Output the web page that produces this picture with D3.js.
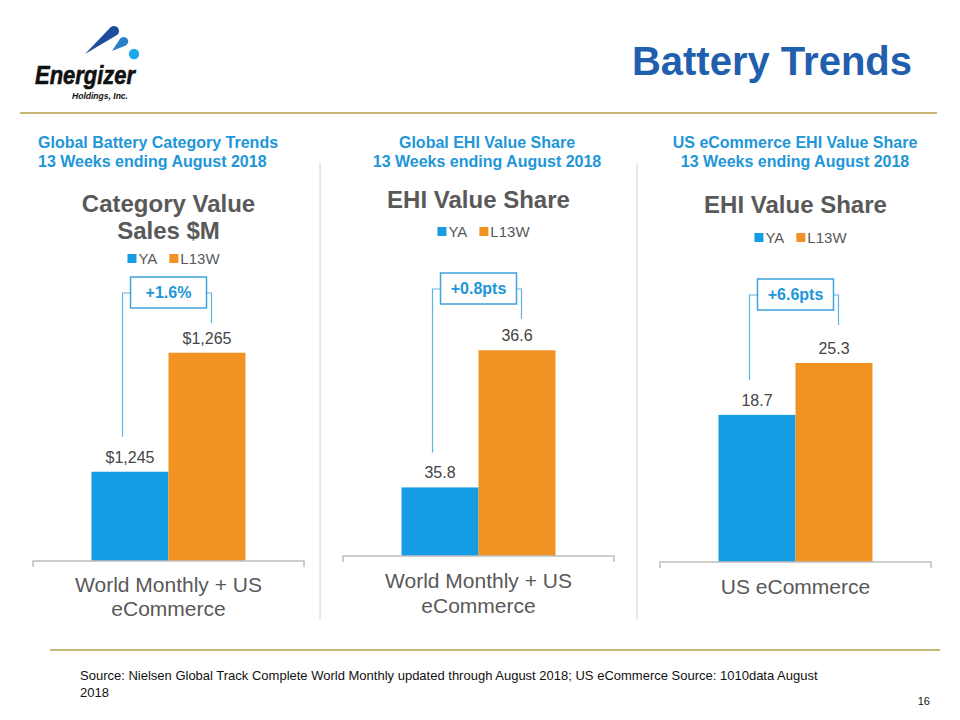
<!DOCTYPE html>
<html>
<head>
<meta charset="utf-8">
<script src="https://cdn.jsdelivr.net/npm/d3@7"></script>
<style>
  html, body { margin: 0; padding: 0; background: #fff; }
  svg { display: block; font-family: "Liberation Sans", Arial, sans-serif; }
</style>
</head>
<body>
<svg id="chart" width="960" height="720"></svg>
<script>
// ---------------- DATA ----------------
const series = ["YA", "L13W"];
const headerLine1 = ["Global Battery Category Trends", "Global EHI Value Share", "US eCommerce EHI Value Share"];
const headerLine2 = ["13 Weeks ending August 2018", "13 Weeks ending August 2018", "13 Weeks ending August 2018"];
const chartTitles = [["Category Value", "Sales $M"], ["EHI Value Share"], ["EHI Value Share"]];
const categories = [["World Monthly + US", "eCommerce"], ["World Monthly + US", "eCommerce"], ["US eCommerce"]];
const yaValues = [1245, 35.8, 18.7];
const l13wValues = [1265, 36.6, 25.3];
const valueLabels = [["$1,245", "$1,265"], ["35.8", "36.6"], ["18.7", "25.3"]];
const changeLabels = ["+1.6%", "+0.8pts", "+6.6pts"];
const yDomains = [[1230, 1270], [35.4, 36.8], [0, 30]];
const sourceLines = [
  "Source: Nielsen Global Track Complete World Monthly updated through August 2018; US eCommerce Source: 1010data August",
  "2018"
];
const pageNumber = "16";

// ---------------- LAYOUT ----------------
const layout = [
  { x0: 33,  x1: 304, base: 561, top: 323, titleY: [212, 239], legendY: 264, catY: [592, 616], boxTop: 277, headX: 38,  headAnchor: "start" },
  { x0: 343, x1: 614, base: 556, top: 316, titleY: [208],      legendY: 237, catY: [588, 613], boxTop: 273, headX: 487, headAnchor: "middle" },
  { x0: 660, x1: 931, base: 562, top: 326, titleY: [213],      legendY: 243, catY: [594],      boxTop: 279, headX: 795, headAnchor: "middle" }
];
const colors = { YA: "#169be5", L13W: "#f29222" };
const grey = "#595959";
const headBlue = "#2196d8";
const bracketBlue = "#5fb3e0";
const gold = "#c8b676";

const svg = d3.select("#chart");

// ---------------- HEADER ----------------
const logo = svg.append("g");
logo.append("path").attr("d", "M85,54 L110.6,27.3 A5,5 0 1 1 117.4,34.7 Z").attr("fill", "#1f4d9e");
logo.append("path").attr("d", "M112,51 L120.2,38.6 A4.5,4.5 0 1 1 125.8,45.4 Z").attr("fill", "#2a7fc6");
logo.append("circle").attr("cx", 134).attr("cy", 54).attr("r", 5.2).attr("fill", "#1ea8ee");
logo.append("text").attr("x", 35).attr("y", 84).attr("font-size", 25).attr("font-weight", "bold")
  .attr("font-style", "italic").attr("fill", "#111").attr("stroke", "#111").attr("stroke-width", 0.6)
  .attr("textLength", 100).attr("lengthAdjust", "spacingAndGlyphs")
  .text("Energizer");
logo.append("text").attr("x", 72).attr("y", 99).attr("font-size", 9).attr("font-weight", "bold")
  .attr("font-style", "italic").attr("fill", "#111").attr("textLength", 56).attr("lengthAdjust", "spacingAndGlyphs")
  .text("Holdings, Inc.");

svg.append("text").attr("x", 912).attr("y", 75).attr("text-anchor", "end")
  .attr("font-size", 40).attr("font-weight", "bold").attr("fill", "#1f5fad").text("Battery Trends");

svg.append("line").attr("x1", 20).attr("x2", 937).attr("y1", 113).attr("y2", 113)
  .attr("stroke", gold).attr("stroke-width", 2);
svg.append("line").attr("x1", 50).attr("x2", 940).attr("y1", 650).attr("y2", 650)
  .attr("stroke", gold).attr("stroke-width", 2);

[320, 637].forEach(x => {
  svg.append("line").attr("x1", x).attr("x2", x).attr("y1", 163).attr("y2", 620)
    .attr("stroke", "#d4d4d4").attr("stroke-width", 1);
});

// ---------------- PANELS ----------------
layout.forEach((L, i) => {
  const g = svg.append("g");
  const values = [yaValues[i], l13wValues[i]];
  const rows = series.map((s, j) => ({ series: s, value: values[j], label: valueLabels[i][j] }));
  const cx = (L.x0 + L.x1) / 2;

  g.append("text").attr("x", L.headX).attr("y", 148).attr("text-anchor", L.headAnchor)
    .attr("font-size", 16).attr("font-weight", "bold").attr("fill", headBlue).text(headerLine1[i]);
  g.append("text").attr("x", L.headX).attr("y", 167).attr("text-anchor", L.headAnchor)
    .attr("font-size", 16).attr("font-weight", "bold").attr("fill", headBlue).text(headerLine2[i]);

  chartTitles[i].forEach((t, k) => {
    g.append("text").attr("x", cx).attr("y", L.titleY[k]).attr("text-anchor", "middle")
      .attr("font-size", 24).attr("font-weight", "bold").attr("fill", grey).text(t);
  });

  const lg = g.append("g");
  let lx = 0;
  series.forEach(s => {
    lg.append("rect").attr("x", lx).attr("y", L.legendY - 10).attr("width", 9).attr("height", 9).attr("fill", colors[s]);
    const t = lg.append("text").attr("x", lx + 11).attr("y", L.legendY).attr("font-size", 15).attr("fill", grey).text(s);
    lx += 11 + t.node().getComputedTextLength() + 12;
  });
  const lw = lx - 12;
  lg.attr("transform", `translate(${cx + 5 - lw / 2},0)`);

  const cat = categories[i].join(" ");
  const x0 = d3.scaleBand().domain([cat]).range([L.x0, L.x1]).paddingInner(0).paddingOuter(0.38);
  const x1 = d3.scaleBand().domain(series).range([0, x0.bandwidth()]).padding(0);
  const y = d3.scaleLinear().domain(yDomains[i]).range([L.base, L.top]);

  g.selectAll("rect.bar").data(rows).join("rect").attr("class", "bar")
    .attr("x", d => x0(cat) + x1(d.series))
    .attr("y", d => y(d.value))
    .attr("width", x1.bandwidth())
    .attr("height", d => L.base - y(d.value))
    .attr("fill", d => colors[d.series]);

  g.selectAll("text.val").data(rows).join("text").attr("class", "val")
    .attr("x", d => x0(cat) + x1(d.series) + x1.bandwidth() / 2)
    .attr("y", d => y(d.value) - 9)
    .attr("text-anchor", "middle").attr("font-size", 16).attr("fill", "#444").text(d => d.label);

  const axis = d3.axisBottom(x0).tickSize(0).tickFormat("");
  const ag = g.append("g").attr("transform", `translate(0,${L.base})`).call(axis);
  ag.select(".domain").attr("stroke", "#bfbfbf").attr("stroke-width", 1.5)
    .attr("d", `M${L.x0},6V0H${L.x1}V6`);

  categories[i].forEach((t, k) => {
    g.append("text").attr("x", cx).attr("y", L.catY[k]).attr("text-anchor", "middle")
      .attr("font-size", 21).attr("fill", grey).text(t);
  });

  const lbx = x0(cat) + x1("YA") + x1.bandwidth() / 2 - 7.5;
  const rbx = x0(cat) + x1("L13W") + x1.bandwidth() / 2 + 4.5;
  const boxW = 76, boxH = 31;
  const bx = x0(cat) + x0.bandwidth() / 2 - boxW / 2;
  const by = L.boxTop;
  const hy = by + 16;
  const lBottom = y(yaValues[i]) - 9 - 26;
  const rBottom = by + boxH + 15;
  g.append("path").attr("d", `M${lbx},${lBottom}V${hy}H${bx}`)
    .attr("fill", "none").attr("stroke", bracketBlue).attr("stroke-width", 1.2);
  g.append("path").attr("d", `M${bx + boxW},${hy}H${rbx}V${rBottom}`)
    .attr("fill", "none").attr("stroke", bracketBlue).attr("stroke-width", 1.2);
  g.append("rect").attr("x", bx).attr("y", by).attr("width", boxW).attr("height", boxH)
    .attr("fill", "#fff").attr("stroke", "#3fa3dc").attr("stroke-width", 1.5);
  g.append("text").attr("x", bx + boxW / 2).attr("y", by + 21).attr("text-anchor", "middle")
    .attr("font-size", 16).attr("font-weight", "bold").attr("fill", headBlue).text(changeLabels[i]);
});

// ---------------- FOOTER ----------------
sourceLines.forEach((t, k) => {
  svg.append("text").attr("x", 80).attr("y", 680 + k * 17).attr("font-size", 13).attr("fill", "#111").text(t);
});
svg.append("text").attr("x", 930).attr("y", 705).attr("text-anchor", "end").attr("font-size", 11)
  .attr("fill", "#111").text(pageNumber);
</script>
</body>
</html>
